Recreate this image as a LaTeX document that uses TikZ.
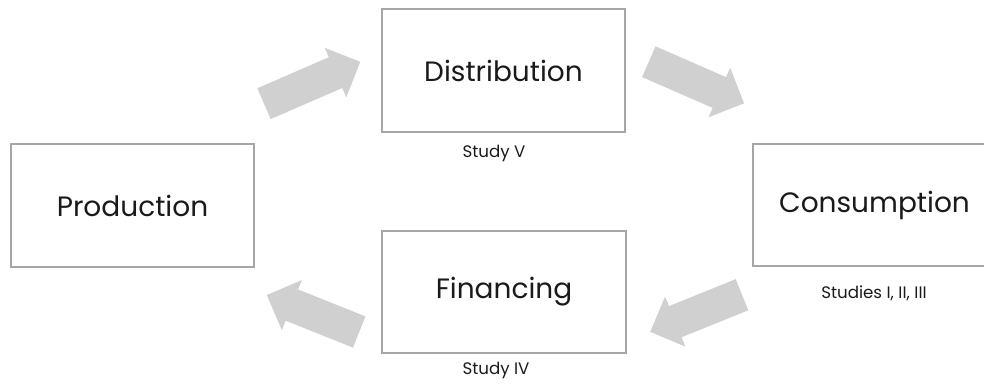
\documentclass[tikz,border=0pt]{standalone}
\usepackage{fontspec}
\setmainfont{Poppins}
\definecolor{boxgray}{HTML}{A6A6A6}
\definecolor{arrgray}{HTML}{D0D0D0}
\definecolor{txt}{HTML}{1A1A1A}
\begin{document}
\begin{tikzpicture}[x=0.75pt,y=-0.75pt,
  stagebox/.style={draw=boxgray,line width=1.5pt,fill=white,inner sep=0pt},
  big/.style={text=txt,font=\fontsize{21}{24}\selectfont,inner sep=0pt},
  lab/.style={text=txt,font=\fontsize{12.5}{15}\selectfont,inner sep=0pt},
  blkfill/.style={fill=arrgray,draw=none}]
\useasboundingbox (0,0) rectangle (984,391);
\clip (0,0) rectangle (984,391);
% boxes
\draw[stagebox] (11,144) rectangle (254,267);
\node[big] (prod) at (132.5,205.5) {Production};
\draw[stagebox] (382,9) rectangle (625,132);
\node[big] (dist) at (503.5,70.5) {Distribution};
\draw[stagebox] (753,144) rectangle (996,266);
\node[big] (cons) at (874.5,205) {Consumption};
\draw[stagebox] (382,231) rectangle (626,353);
\node[big] (fin) at (504,292) {Financing};
% labels
\node[lab] (s5) at (494,153) {Study V};
\node[lab] (s123) at (874,293) {Studies I, II, III};
\node[lab] (s4) at (496,370) {Study IV};
% block arrows
\newcommand{\blkarrow}[3]{%
  \begin{scope}[shift={#1},rotate=#2]
    \fill[blkfill] (0,-16.8) -- (#3-27,-16.8) -- (#3-27,-27) -- (#3,0) -- (#3-27,27) -- (#3-27,16.8) -- (0,16.8) -- cycle;
  \end{scope}}
\blkarrow{(264,103.7)}{23.5}{105}
\blkarrow{(648.8,61.7)}{-23.6}{104}
\blkarrow{(742,294.7)}{202}{99}
\blkarrow{(359.2,332)}{158.2}{99.5}
\end{tikzpicture}
\end{document}
